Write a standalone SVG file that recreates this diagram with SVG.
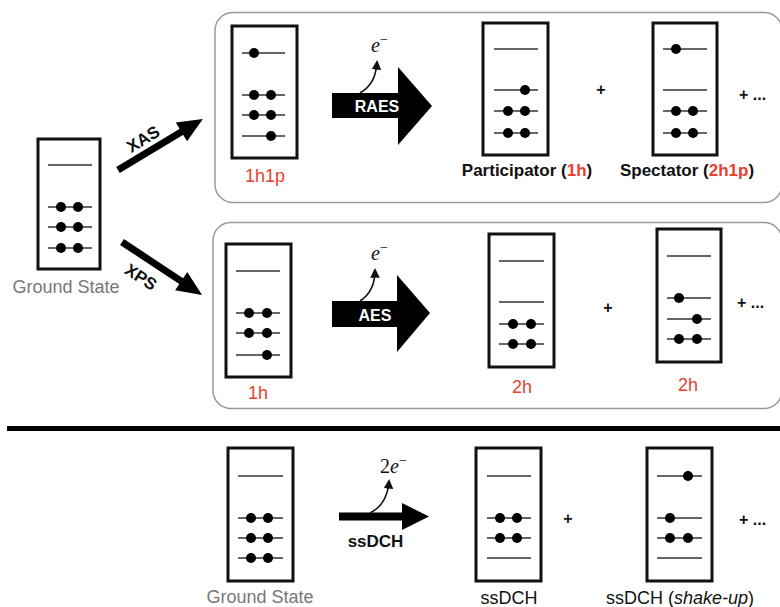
<svg xmlns="http://www.w3.org/2000/svg" width="780" height="607" viewBox="0 0 780 607">
<defs>
<style>
.box{fill:#fff;stroke:#111;stroke-width:3}
.orb{stroke:#333;stroke-width:1.5}
.dot{fill:#000}
.panel{fill:#fff;stroke:#9a9a9a;stroke-width:1.5}
.lbl{font-family:"Liberation Sans",Arial,sans-serif;font-size:18px;text-anchor:middle}
.bl{font-family:"Liberation Sans",Arial,sans-serif;font-size:17px;font-weight:bold;text-anchor:middle;fill:#111}
.red{fill:#e8412c}
.gray{fill:#777}
.plus{font-family:"Liberation Sans",Arial,sans-serif;font-size:16px;font-weight:bold;fill:#111}
.ax{font-family:"Liberation Sans",Arial,sans-serif;font-size:17px;font-weight:bold;fill:#111;text-anchor:middle}
.wt{font-family:"Liberation Sans",Arial,sans-serif;font-size:16px;font-weight:bold;fill:#fff;text-anchor:middle}
.el{font-family:"Liberation Serif","Times New Roman",serif;font-size:20px;fill:#111}
.thin{fill:none;stroke:#111;stroke-width:1.6}
</style>
<marker id="ah" viewBox="0 0 10 10" refX="8" refY="5" markerWidth="6" markerHeight="6" orient="auto"><path d="M0,0 L10,5 L0,10 z" fill="#111"/></marker>
</defs>
<rect width="780" height="607" fill="#fff"/>
<rect class="panel" x="215" y="12.5" width="567" height="190" rx="18"/>
<rect class="panel" x="213" y="222.5" width="569" height="186" rx="18"/>
<rect x="7" y="426" width="773" height="5" fill="#000"/>

<g id="gs-top">
<rect class="box" x="38" y="139" width="62" height="130"/>
<line class="orb" x1="48" y1="165" x2="92" y2="165"/>
<line class="orb" x1="48" y1="207" x2="92" y2="207"/>
<line class="orb" x1="48" y1="227" x2="92" y2="227"/>
<line class="orb" x1="48" y1="248" x2="92" y2="248"/>
<circle class="dot" cx="61" cy="207" r="5"/><circle class="dot" cx="78" cy="207" r="5"/>
<circle class="dot" cx="61" cy="227" r="5"/><circle class="dot" cx="78" cy="227" r="5"/>
<circle class="dot" cx="61" cy="248" r="5"/><circle class="dot" cx="78" cy="248" r="5"/>
<text class="lbl gray" x="66" y="293">Ground State</text>
</g>

<g id="n-1h1p">
<rect class="box" x="232" y="26" width="65" height="132"/>
<line class="orb" x1="242" y1="53" x2="285" y2="53"/>
<line class="orb" x1="242" y1="95" x2="285" y2="95"/>
<line class="orb" x1="242" y1="115" x2="285" y2="115"/>
<line class="orb" x1="242" y1="136" x2="285" y2="136"/>
<circle class="dot" cx="254" cy="53" r="5"/>
<circle class="dot" cx="254" cy="95" r="5"/><circle class="dot" cx="271" cy="95" r="5"/>
<circle class="dot" cx="254" cy="115" r="5"/><circle class="dot" cx="271" cy="115" r="5"/>
<circle class="dot" cx="271" cy="136" r="5"/>
<text class="lbl red" x="265" y="182">1h1p</text>
</g>

<g id="n-participator">
<rect class="box" x="483" y="23" width="65" height="132"/>
<line class="orb" x1="494" y1="49" x2="538" y2="49"/>
<line class="orb" x1="494" y1="90" x2="538" y2="90"/>
<line class="orb" x1="494" y1="111" x2="538" y2="111"/>
<line class="orb" x1="494" y1="133" x2="538" y2="133"/>
<circle class="dot" cx="525" cy="90" r="5"/>
<circle class="dot" cx="508" cy="111" r="5"/><circle class="dot" cx="525" cy="111" r="5"/>
<circle class="dot" cx="508" cy="133" r="5"/><circle class="dot" cx="525" cy="133" r="5"/>
<text class="bl" x="527" y="176">Participator (<tspan class="red">1h</tspan>)</text>
</g>

<g id="n-spectator">
<rect class="box" x="653" y="23" width="64" height="132"/>
<line class="orb" x1="663" y1="49" x2="707" y2="49"/>
<line class="orb" x1="663" y1="90" x2="707" y2="90"/>
<line class="orb" x1="663" y1="111" x2="707" y2="111"/>
<line class="orb" x1="663" y1="133" x2="707" y2="133"/>
<circle class="dot" cx="676" cy="49" r="5"/>
<circle class="dot" cx="676" cy="111" r="5"/><circle class="dot" cx="693" cy="111" r="5"/>
<circle class="dot" cx="676" cy="133" r="5"/><circle class="dot" cx="693" cy="133" r="5"/>
<text class="bl" x="687" y="176">Spectator (<tspan class="red">2h1p</tspan>)</text>
</g>

<g id="n-1h">
<rect class="box" x="226" y="244" width="65" height="133"/>
<line class="orb" x1="236" y1="271" x2="280" y2="271"/>
<line class="orb" x1="236" y1="313" x2="280" y2="313"/>
<line class="orb" x1="236" y1="333" x2="280" y2="333"/>
<line class="orb" x1="236" y1="355" x2="280" y2="355"/>
<circle class="dot" cx="249" cy="313" r="5"/><circle class="dot" cx="267" cy="313" r="5"/>
<circle class="dot" cx="249" cy="333" r="5"/><circle class="dot" cx="267" cy="333" r="5"/>
<circle class="dot" cx="267" cy="355" r="5"/>
<text class="lbl red" x="258" y="399">1h</text>
</g>

<g id="n-2h-a">
<rect class="box" x="489" y="234" width="65" height="133"/>
<line class="orb" x1="499" y1="261" x2="544" y2="261"/>
<line class="orb" x1="499" y1="302" x2="544" y2="302"/>
<line class="orb" x1="499" y1="324" x2="544" y2="324"/>
<line class="orb" x1="499" y1="344" x2="544" y2="344"/>
<circle class="dot" cx="513" cy="324" r="5"/><circle class="dot" cx="531" cy="324" r="5"/>
<circle class="dot" cx="513" cy="344" r="5"/><circle class="dot" cx="531" cy="344" r="5"/>
<text class="lbl red" x="522" y="393">2h</text>
</g>

<g id="n-2h-b">
<rect class="box" x="657" y="229" width="64" height="133"/>
<line class="orb" x1="667" y1="256" x2="711" y2="256"/>
<line class="orb" x1="667" y1="298" x2="711" y2="298"/>
<line class="orb" x1="667" y1="319" x2="711" y2="319"/>
<line class="orb" x1="667" y1="339" x2="711" y2="339"/>
<circle class="dot" cx="679" cy="298" r="5"/>
<circle class="dot" cx="697" cy="319" r="5"/>
<circle class="dot" cx="679" cy="339" r="5"/><circle class="dot" cx="697" cy="339" r="5"/>
<text class="lbl red" x="688" y="391">2h</text>
</g>

<g id="gs-bottom">
<rect class="box" x="228" y="448" width="65" height="133"/>
<line class="orb" x1="238" y1="476" x2="283" y2="476"/>
<line class="orb" x1="238" y1="518" x2="283" y2="518"/>
<line class="orb" x1="238" y1="538" x2="283" y2="538"/>
<line class="orb" x1="238" y1="558" x2="283" y2="558"/>
<circle class="dot" cx="251" cy="518" r="5"/><circle class="dot" cx="268" cy="518" r="5"/>
<circle class="dot" cx="251" cy="538" r="5"/><circle class="dot" cx="268" cy="538" r="5"/>
<circle class="dot" cx="251" cy="558" r="5"/><circle class="dot" cx="268" cy="558" r="5"/>
<text class="lbl gray" x="260" y="603">Ground State</text>
</g>

<g id="n-ssdch">
<rect class="box" x="476" y="448" width="65" height="133"/>
<line class="orb" x1="487" y1="476" x2="531" y2="476"/>
<line class="orb" x1="487" y1="518" x2="531" y2="518"/>
<line class="orb" x1="487" y1="538" x2="531" y2="538"/>
<line class="orb" x1="487" y1="558" x2="531" y2="558"/>
<circle class="dot" cx="500" cy="518" r="5"/><circle class="dot" cx="517" cy="518" r="5"/>
<circle class="dot" cx="500" cy="538" r="5"/><circle class="dot" cx="517" cy="538" r="5"/>
<text class="lbl" x="509" y="604" fill="#111">ssDCH</text>
</g>

<g id="n-shakeup">
<rect class="box" x="647" y="448" width="65" height="133"/>
<line class="orb" x1="657" y1="476" x2="702" y2="476"/>
<line class="orb" x1="657" y1="518" x2="702" y2="518"/>
<line class="orb" x1="657" y1="538" x2="702" y2="538"/>
<line class="orb" x1="657" y1="558" x2="702" y2="558"/>
<circle class="dot" cx="688" cy="476" r="5"/>
<circle class="dot" cx="670" cy="518" r="5"/>
<circle class="dot" cx="670" cy="538" r="5"/><circle class="dot" cx="688" cy="538" r="5"/>
<text class="lbl" x="680" y="604" fill="#111">ssDCH (<tspan font-style="italic">shake-up</tspan>)</text>
</g>

<g id="connectors">
<g transform="translate(118,170) rotate(-31)">
<rect x="0" y="-3.5" width="78" height="7" fill="#000"/>
<polygon points="74,-11 99,0 74,11" fill="#000"/>
</g>
<text class="ax" transform="translate(143,139) rotate(-32)" y="6">XAS</text>
<g transform="translate(122,242) rotate(33.5)">
<rect x="0" y="-3.5" width="75" height="7" fill="#000"/>
<polygon points="71,-11 96,0 71,11" fill="#000"/>
</g>
<text class="ax" transform="translate(141,277) rotate(33)" y="6">XPS</text>

<polygon points="332,93 398,93 398,67 432,106 398,145 398,118 332,118" fill="#000"/>
<text class="wt" x="377" y="112">RAES</text>
<path class="thin" d="M360,93 C372,86 376,76 377,62" marker-end="url(#ah)"/>
<text class="el" x="371" y="52"><tspan font-style="italic">e</tspan><tspan font-size="14" dy="-8">−</tspan></text>

<polygon points="332,301 397,301 397,275 430,313 397,352 397,327 332,327" fill="#000"/>
<text class="wt" x="375" y="321">AES</text>
<path class="thin" d="M360,301 C371,294 375,284 375,270" marker-end="url(#ah)"/>
<text class="el" x="371" y="260"><tspan font-style="italic">e</tspan><tspan font-size="14" dy="-8">−</tspan></text>

<rect x="339" y="512.5" width="65" height="8" fill="#000"/>
<polygon points="402,503 429,516.5 402,530" fill="#000"/>
<text class="bl" x="375.5" y="547">ssDCH</text>
<path class="thin" d="M370,513 C382,507 388,496 389,481" marker-end="url(#ah)"/>
<text class="el" x="380" y="473">2<tspan font-style="italic">e</tspan><tspan font-size="14" dy="-8">−</tspan></text>

<text class="plus" x="601" y="95" text-anchor="middle">+</text>
<text class="plus" x="739" y="100">+ ...</text>
<text class="plus" x="608" y="313" text-anchor="middle">+</text>
<text class="plus" x="737" y="308">+ ...</text>
<text class="plus" x="568" y="524" text-anchor="middle">+</text>
<text class="plus" x="739" y="525">+ ...</text>
</g>
</svg>
